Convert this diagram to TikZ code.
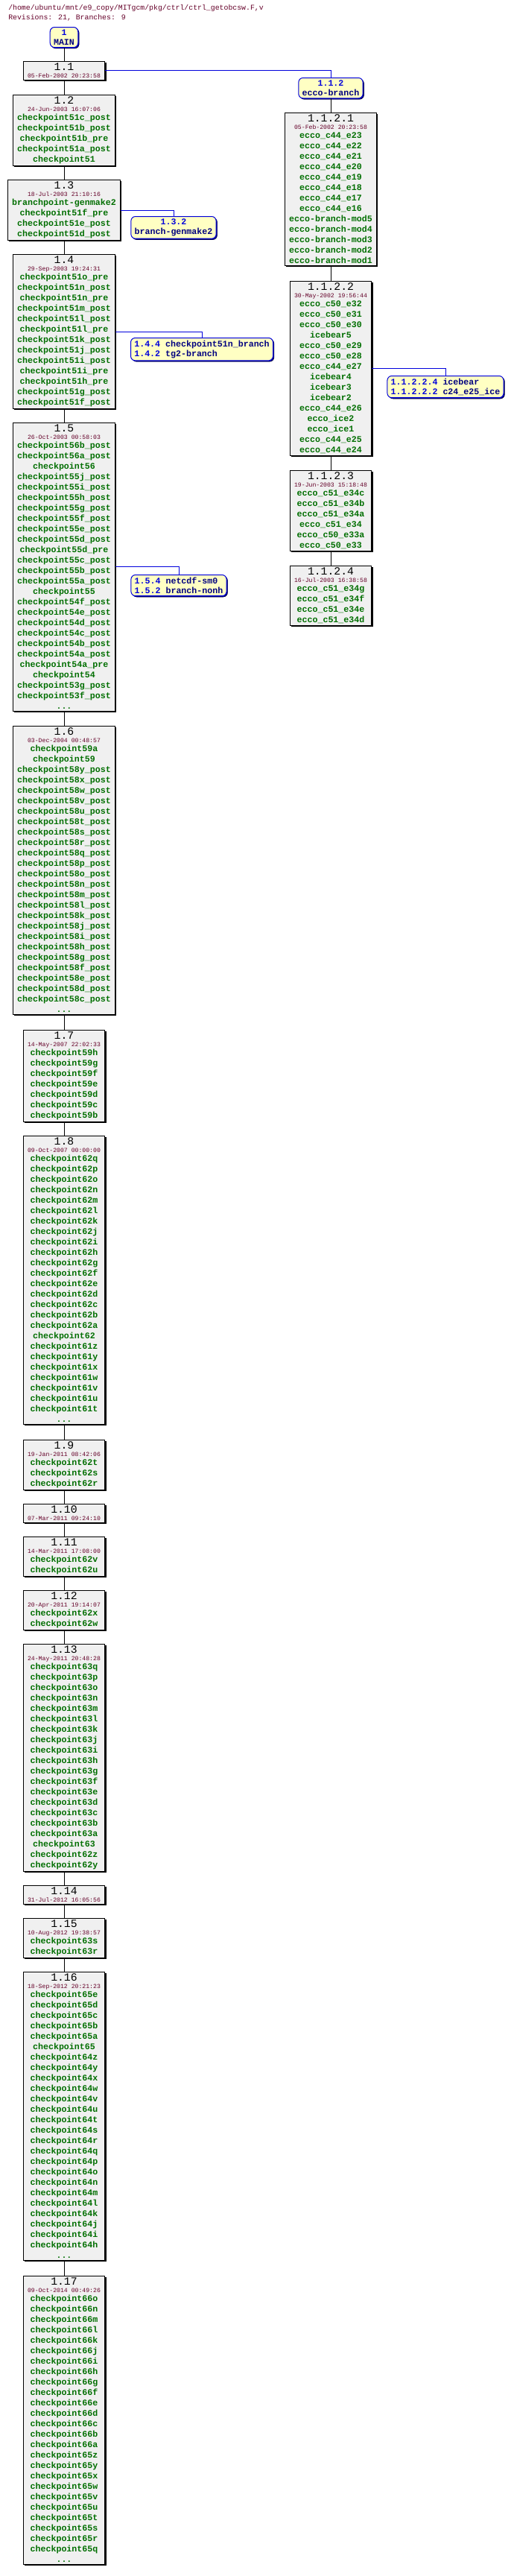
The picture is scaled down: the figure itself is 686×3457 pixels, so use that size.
\documentclass[tikz,border=0pt]{standalone}
\usepackage{fontspec}
\usetikzlibrary{shadows}
\newfontfamily\lmono{Liberation Mono}
\definecolor{tagcol}{RGB}{0,110,0}
\definecolor{datecol}{RGB}{100,0,40}
\definecolor{brblue}{RGB}{0,0,220}
\definecolor{brnavy}{RGB}{0,0,128}
\definecolor{brfill}{RGB}{255,255,195}
\definecolor{boxfill}{RGB}{240,240,240}
\lineskiplimit=-100pt
\newcommand{\vfont}{\mdseries\color{black}\fontsize{10.5}{12}\selectfont}
\newcommand{\dfont}{\mdseries\color{datecol}\fontsize{5.8}{7}\selectfont}
\newcommand{\hd}[2]{{\vfont #1}\\[-2.85pt]{\dfont #2}\\[-1.4pt]}
\newcommand{\hdonly}[2]{{\vfont #1}\\[-2.85pt]{\dfont #2}}
\newcommand{\br}[2]{{\color{brblue}#1} {\color{brnavy}#2}}

\begin{document}
\begin{tikzpicture}[x=0.25mm, y=-0.25mm]
    \tikzstyle{rev}=[draw, line width=0.25mm, fill=boxfill, anchor=north, align=center,
        inner xsep=1.5mm, inner ysep=0.6mm, text=tagcol,
        font=\lmono\bfseries\fontsize{8.27}{9.96}\selectfont,
        drop shadow={shadow xshift=0.4mm, shadow yshift=-0.4mm, fill=black, opacity=1}]
    \tikzstyle{branch}=[rev, fill=brfill, draw=brblue, rounded corners=1.5mm, text=brnavy,
        inner xsep=1.2mm, inner ysep=0.8mm,
        font=\lmono\bfseries\fontsize{8.27}{9.3}\selectfont,
        drop shadow={shadow xshift=0.35mm, shadow yshift=-0.35mm, fill=brnavy, opacity=1}]
    \tikzstyle{branchline}=[draw=brblue, line width=0.25mm]
    \tikzstyle{revline}=[draw=black, line width=0.25mm]

    \useasboundingbox (0,0) rectangle (686,3457);

    \node[anchor=north west, align=left, inner sep=0, text=datecol,
        font=\lmono\fontsize{7}{9.2}\selectfont] (title) at (11,6)
        {/home/ubuntu/mnt/e9\_copy/MITgcm/pkg/ctrl/ctrl\_getobcsw.F,v\\Revisions: 21, Branches: 9};

    % main trunk
    \node[branch, align=center] (main) at (86,36) {{\color{brblue}1}\\MAIN};
    \node[rev] (v1_1) at (86,82) {\hdonly{1.1}{05-Feb-2002 20:23:58}};
    \node[rev] (v1_2) at (86,127) {\hd{1.2}{24-Jun-2003 16:07:06}checkpoint51c\_post\\checkpoint51b\_post\\checkpoint51b\_pre\\checkpoint51a\_post\\checkpoint51};
    \node[rev] (v1_3) at (86,241) {\hd{1.3}{18-Jul-2003 21:10:16}branchpoint-genmake2\\checkpoint51f\_pre\\checkpoint51e\_post\\checkpoint51d\_post};
    \node[rev] (v1_4) at (86,341) {\hd{1.4}{29-Sep-2003 19:24:31}checkpoint51o\_pre\\checkpoint51n\_post\\checkpoint51n\_pre\\checkpoint51m\_post\\checkpoint51l\_post\\checkpoint51l\_pre\\checkpoint51k\_post\\checkpoint51j\_post\\checkpoint51i\_post\\checkpoint51i\_pre\\checkpoint51h\_pre\\checkpoint51g\_post\\checkpoint51f\_post};
    \node[rev] (v1_5) at (86,567) {\hd{1.5}{26-Oct-2003 00:58:03}checkpoint56b\_post\\checkpoint56a\_post\\checkpoint56\\checkpoint55j\_post\\checkpoint55i\_post\\checkpoint55h\_post\\checkpoint55g\_post\\checkpoint55f\_post\\checkpoint55e\_post\\checkpoint55d\_post\\checkpoint55d\_pre\\checkpoint55c\_post\\checkpoint55b\_post\\checkpoint55a\_post\\checkpoint55\\checkpoint54f\_post\\checkpoint54e\_post\\checkpoint54d\_post\\checkpoint54c\_post\\checkpoint54b\_post\\checkpoint54a\_post\\checkpoint54a\_pre\\checkpoint54\\checkpoint53g\_post\\checkpoint53f\_post\\...};
    \node[rev] (v1_6) at (86,974) {\hd{1.6}{03-Dec-2004 00:48:57}checkpoint59a\\checkpoint59\\checkpoint58y\_post\\checkpoint58x\_post\\checkpoint58w\_post\\checkpoint58v\_post\\checkpoint58u\_post\\checkpoint58t\_post\\checkpoint58s\_post\\checkpoint58r\_post\\checkpoint58q\_post\\checkpoint58p\_post\\checkpoint58o\_post\\checkpoint58n\_post\\checkpoint58m\_post\\checkpoint58l\_post\\checkpoint58k\_post\\checkpoint58j\_post\\checkpoint58i\_post\\checkpoint58h\_post\\checkpoint58g\_post\\checkpoint58f\_post\\checkpoint58e\_post\\checkpoint58d\_post\\checkpoint58c\_post\\...};
    \node[rev] (v1_7) at (86,1382) {\hd{1.7}{14-May-2007 22:02:33}checkpoint59h\\checkpoint59g\\checkpoint59f\\checkpoint59e\\checkpoint59d\\checkpoint59c\\checkpoint59b};
    \node[rev] (v1_8) at (86,1524) {\hd{1.8}{09-Oct-2007 00:00:00}checkpoint62q\\checkpoint62p\\checkpoint62o\\checkpoint62n\\checkpoint62m\\checkpoint62l\\checkpoint62k\\checkpoint62j\\checkpoint62i\\checkpoint62h\\checkpoint62g\\checkpoint62f\\checkpoint62e\\checkpoint62d\\checkpoint62c\\checkpoint62b\\checkpoint62a\\checkpoint62\\checkpoint61z\\checkpoint61y\\checkpoint61x\\checkpoint61w\\checkpoint61v\\checkpoint61u\\checkpoint61t\\...};
    \node[rev] (v1_9) at (86,1932) {\hd{1.9}{19-Jan-2011 08:42:06}checkpoint62t\\checkpoint62s\\checkpoint62r};
    \node[rev] (v1_10) at (86,2018) {\hdonly{1.10}{07-Mar-2011 09:24:10}};
    \node[rev] (v1_11) at (86,2062) {\hd{1.11}{14-Mar-2011 17:08:00}checkpoint62v\\checkpoint62u};
    \node[rev] (v1_12) at (86,2134) {\hd{1.12}{20-Apr-2011 19:14:07}checkpoint62x\\checkpoint62w};
    \node[rev] (v1_13) at (86,2206) {\hd{1.13}{24-May-2011 20:48:28}checkpoint63q\\checkpoint63p\\checkpoint63o\\checkpoint63n\\checkpoint63m\\checkpoint63l\\checkpoint63k\\checkpoint63j\\checkpoint63i\\checkpoint63h\\checkpoint63g\\checkpoint63f\\checkpoint63e\\checkpoint63d\\checkpoint63c\\checkpoint63b\\checkpoint63a\\checkpoint63\\checkpoint62z\\checkpoint62y};
    \node[rev] (v1_14) at (86,2530) {\hdonly{1.14}{31-Jul-2012 16:05:56}};
    \node[rev] (v1_15) at (86,2574) {\hd{1.15}{10-Aug-2012 19:38:57}checkpoint63s\\checkpoint63r};
    \node[rev] (v1_16) at (86,2646) {\hd{1.16}{18-Sep-2012 20:21:23}checkpoint65e\\checkpoint65d\\checkpoint65c\\checkpoint65b\\checkpoint65a\\checkpoint65\\checkpoint64z\\checkpoint64y\\checkpoint64x\\checkpoint64w\\checkpoint64v\\checkpoint64u\\checkpoint64t\\checkpoint64s\\checkpoint64r\\checkpoint64q\\checkpoint64p\\checkpoint64o\\checkpoint64n\\checkpoint64m\\checkpoint64l\\checkpoint64k\\checkpoint64j\\checkpoint64i\\checkpoint64h\\...};
    \node[rev] (v1_17) at (86,3054) {\hd{1.17}{09-Oct-2014 00:49:26}checkpoint66o\\checkpoint66n\\checkpoint66m\\checkpoint66l\\checkpoint66k\\checkpoint66j\\checkpoint66i\\checkpoint66h\\checkpoint66g\\checkpoint66f\\checkpoint66e\\checkpoint66d\\checkpoint66c\\checkpoint66b\\checkpoint66a\\checkpoint65z\\checkpoint65y\\checkpoint65x\\checkpoint65w\\checkpoint65v\\checkpoint65u\\checkpoint65t\\checkpoint65s\\checkpoint65r\\checkpoint65q\\...};

    % ecco branch
    \node[branch] (b1_1_2) at (444,104) {{\color{brblue}1.1.2}\\ecco-branch};
    \node[rev] (v1_1_2_1) at (444,151) {\hd{1.1.2.1}{05-Feb-2002 20:23:58}ecco\_c44\_e23\\ecco\_c44\_e22\\ecco\_c44\_e21\\ecco\_c44\_e20\\ecco\_c44\_e19\\ecco\_c44\_e18\\ecco\_c44\_e17\\ecco\_c44\_e16\\ecco-branch-mod5\\ecco-branch-mod4\\ecco-branch-mod3\\ecco-branch-mod2\\ecco-branch-mod1};
    \node[rev] (v1_1_2_2) at (444,377) {\hd{1.1.2.2}{30-May-2002 19:56:44}ecco\_c50\_e32\\ecco\_c50\_e31\\ecco\_c50\_e30\\icebear5\\ecco\_c50\_e29\\ecco\_c50\_e28\\ecco\_c44\_e27\\icebear4\\icebear3\\icebear2\\ecco\_c44\_e26\\ecco\_ice2\\ecco\_ice1\\ecco\_c44\_e25\\ecco\_c44\_e24};
    \node[rev] (v1_1_2_3) at (444,631) {\hd{1.1.2.3}{19-Jun-2003 15:18:48}ecco\_c51\_e34c\\ecco\_c51\_e34b\\ecco\_c51\_e34a\\ecco\_c51\_e34\\ecco\_c50\_e33a\\ecco\_c50\_e33};
    \node[rev] (v1_1_2_4) at (444,759) {\hd{1.1.2.4}{16-Jul-2003 16:38:58}ecco\_c51\_e34g\\ecco\_c51\_e34f\\ecco\_c51\_e34e\\ecco\_c51\_e34d};

    % side branch boxes
    \node[branch] (b1_3_2) at (233,290) {{\color{brblue}1.3.2}\\branch-genmake2};
    \node[branch, align=left] (b1_4) at (271,453) {\br{1.4.4}{checkpoint51n\_branch}\\\br{1.4.2}{tg2-branch}};
    \node[branch, align=left] (b1_5) at (240,771) {\br{1.5.4}{netcdf-sm0}\\\br{1.5.2}{branch-nonh}};
    \node[branch, align=left] (b1_1_2_2) at (598,504) {\br{1.1.2.2.4}{icebear}\\\br{1.1.2.2.2}{c24\_e25\_ice}};

    \draw[revline] (main) -- (v1_1) -- (v1_2) -- (v1_3) -- (v1_4) -- (v1_5) -- (v1_6) -- (v1_7) -- (v1_8) -- (v1_9) -- (v1_10) -- (v1_11) -- (v1_12) -- (v1_13) -- (v1_14) -- (v1_15) -- (v1_16) -- (v1_17);
    \draw[revline] (b1_1_2) -- (v1_1_2_1) -- (v1_1_2_2) -- (v1_1_2_3) -- (v1_1_2_4);
    \draw[branchline] (v1_1.east) -| (b1_1_2.north);
    \draw[branchline] (v1_3.east) -| (b1_3_2.north);
    \draw[branchline] (v1_4.east) -| (b1_4.north);
    \draw[branchline] (v1_5.east) -| (b1_5.north);
    \draw[branchline] (v1_1_2_2.east) -| (b1_1_2_2.north);
\end{tikzpicture}
\end{document}
